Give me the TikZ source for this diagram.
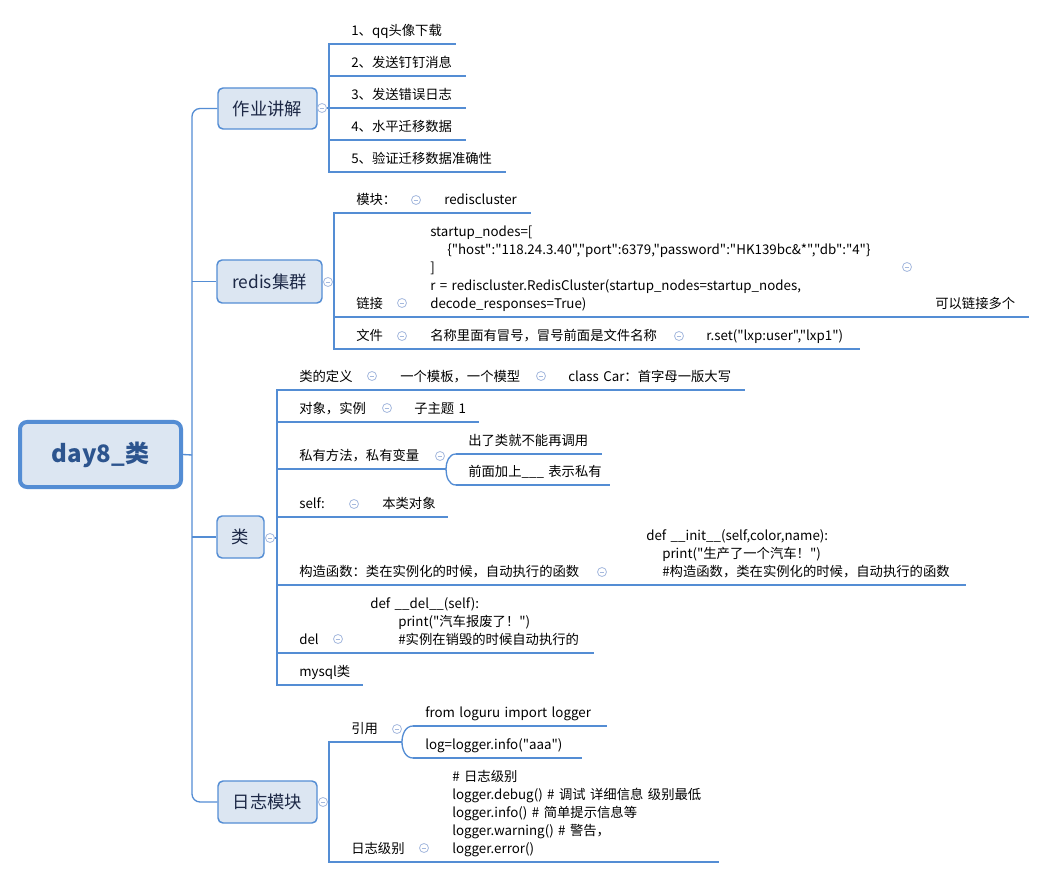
\documentclass[tikz,border=0pt]{standalone}
\usepackage{fontspec}
\setmainfont{Noto Sans CJK SC}[Ligatures=TeXOff]
\newdimen\px \px=0.75pt
\definecolor{lblue}{RGB}{84,141,212}
\definecolor{boxfill}{RGB}{220,230,242}
\definecolor{circc}{RGB}{165,185,222}
\definecolor{navy}{RGB}{28,40,70}
\definecolor{rootc}{RGB}{44,84,142}
\newcommand\lnx[2]{\hspace*{#1\px}\mbox{#2}}
\newcommand\mitem[5]{%
  \pgfmathsetmacro\mitemw{(#3-#2)*0.75}%
  \node[itm, text width=\mitemw pt] (#1) at (#2,#4) {#5};}
\tikzset{
  itm/.style={anchor=south west, inner xsep=0pt, inner ysep=2.2pt, align=left,
    font=\fontsize{10}{13.5}\selectfont, text=black, execute at end node=\strut},
  conn/.style={draw=lblue, line width=1pt},
  uline/.style={draw=lblue, line width=2.1pt},
  lvlone/.style={rectangle, rounded corners=5\px, draw=lblue, line width=1.1pt,
    fill=boxfill, text=navy, font=\fontsize{13}{15}\selectfont, inner sep=0pt},
  rootbox/.style={rectangle, rounded corners=7\px, draw=lblue, line width=3pt,
    fill=boxfill, text=rootc, font=\fontsize{18}{20}\selectfont\bfseries, inner sep=0pt},
  circ/.style={circle, draw=circc, line width=0.6pt, fill=white, minimum size=9\px,
    inner sep=0pt, path picture={\draw[circc, line width=0.6pt]
      ([xshift=-2.3\px]path picture bounding box.center) --
      ([xshift=2.3\px]path picture bounding box.center);}}
}
\begin{document}
\begin{tikzpicture}[x=0.75pt,y=-0.75pt]
\fill[white] (0,0) rectangle (1046,880);
\useasboundingbox (0,0) rectangle (1046,880);

% root and level-one boxes
\node[rootbox, minimum width=161\px, minimum height=65\px] (root) at (100.5,454.5) {day8\_类};
\node[lvlone, minimum width=99\px, minimum height=41\px] (b1) at (267.5,108.5) {作业讲解};
\node[lvlone, minimum width=105\px, minimum height=43\px] (b2) at (269.5,281.5) {redis集群};
\node[lvlone, minimum width=47\px, minimum height=42\px] (b3) at (240.5,537) {类};
\node[lvlone, minimum width=99\px, minimum height=42\px] (b4) at (267.5,802) {日志模块};

% 作业讲解
\mitem{a1}{339}{455}{44}{\lnx{12}{1、qq头像下载}}
\mitem{a2}{339}{465}{76}{\lnx{12}{2、发送钉钉消息}}
\mitem{a3}{339}{465}{108}{\lnx{12}{3、发送错误日志}}
\mitem{a4}{339}{465}{140}{\lnx{12}{4、水平迁移数据}}
\mitem{a5}{339}{505}{172}{\lnx{12}{5、验证迁移数据准确性}}

% redis集群
\mitem{r1}{344}{407}{213}{\lnx{12}{模块：}}
\mitem{r1a}{432}{530}{213}{\lnx{12}{rediscluster}}
\mitem{r2}{344}{394}{317}{\lnx{12}{链接}}
\mitem{r2a}{418}{899}{317}{\lnx{12}{startup\_nodes=[}\\\lnx{29}{\{"host":"118.24.3.40","port":6379,"password":"HK139bc\&*","db":"4"\}}\\\lnx{12}{]}\\\lnx{12}{r = rediscluster.RedisCluster(startup\_nodes=startup\_nodes,}\\\lnx{12}{decode\_responses=True)}}
\mitem{r2b}{924}{1028}{317}{\lnx{11}{可以链接多个}}
\mitem{r3}{344}{394}{349}{\lnx{12}{文件}}
\mitem{r3a}{418}{671}{349}{\lnx{12}{名称里面有冒号，冒号前面是文件名称}}
\mitem{r3b}{696}{859}{349}{\lnx{10}{r.set("lxp:user","lxp1")}}

% 类
\mitem{k1}{287}{363}{390}{\lnx{12}{类的定义}}
\mitem{k1a}{388}{533}{390}{\lnx{12}{一个模板，一个模型}}
\mitem{k1b}{558}{744}{390}{\lnx{10}{class Car：首字母一版大写}}
\mitem{k2}{287}{377}{422}{\lnx{12}{对象，实例}}
\mitem{k2a}{402}{478}{422}{\lnx{12}{子主题 1}}
\mitem{k3}{287}{432}{469}{\lnx{12}{私有方法，私有变量}}
\mitem{k3a}{456}{601}{454}{\lnx{12}{出了类就不能再调用}}
\mitem{k3b}{456}{609}{485}{\lnx{12}{前面加上\_\_\_ 表示私有}}
\mitem{k4}{287}{346}{517}{\lnx{12}{self:}}
\mitem{k4a}{370}{447}{517}{\lnx{12}{本类对象}}
\mitem{k5}{287}{593}{585}{\lnx{12}{构造函数：类在实例化的时候，自动执行的函数}}
\mitem{k5a}{618}{965}{585}{\lnx{28}{def \_\_init\_\_(self,color,name):}\\\lnx{44}{print("生产了一个汽车！")}\\\lnx{44}{\#构造函数，类在实例化的时候，自动执行的函数}}
\mitem{k6}{287}{329}{653}{\lnx{12}{del}}
\mitem{k6a}{354}{593}{653}{\lnx{16}{def \_\_del\_\_(self):}\\\lnx{44}{print("汽车报废了！")}\\\lnx{44}{\#实例在销毁的时候自动执行的}}
\mitem{k7}{287}{362}{685}{\lnx{12}{mysql类}}

% 日志模块
\mitem{l1}{339}{389}{742}{\lnx{12}{引用}}
\mitem{l1a}{413}{606}{726}{\lnx{12}{from loguru import logger}}
\mitem{l1b}{413}{581}{758}{\lnx{12}{log=logger.info("aaa")}}
\mitem{l2}{339}{416}{862}{\lnx{12}{日志级别}}
\mitem{l2a}{440}{718}{862}{\lnx{12}{\# 日志级别}\\\lnx{12}{logger.debug() \# 调试 详细信息 级别最低}\\\lnx{12}{logger.info() \# 简单提示信息等}\\\lnx{12}{logger.warning() \# 警告，}\\\lnx{12}{logger.error()}}

% coordinates
\coordinate (t) at (192,455);
\coordinate (v1) at (329,108);
\coordinate (v2) at (334,282);
\coordinate (v3) at (277,538);
\coordinate (v4) at (329,802);
\coordinate (j3) at (446,469);
\coordinate (j4) at (402,742);

% trunk
\draw[conn, rounded corners=8\px] (b1.west) -| (t) |- (b4.west);
\draw[conn] (root.east) -- (t);
\draw[conn] (t |- b2.west) -- (b2.west);
\draw[conn] (t |- b3.west) -- (b3.west);

% collapse circles of level one
\node[circ] (c1) at (322,108) {};
\node[circ] (c2) at (328,282) {};
\node[circ] (c3) at (270,538) {};
\node[circ] (c4) at (323,802) {};
\draw[conn] (c1.east) -- (v1);
\draw[conn] (c2.east) -- (v2);
\draw[conn] (c3.east) -- (v3);
\draw[conn] (c4.east) -- (v4);

% spines
\draw[conn] (a1.south west) -| (v1) |- (a5.south west);
\foreach \n in {a2,a3,a4} \draw[conn] (v1) |- (\n.south west);
\draw[conn] (r1.south west) -| (v2) |- (r3.south west);
\draw[conn] (v2) |- (r2.south west);
\draw[conn] (k1.south west) -| (v3) |- (k7.south west);
\foreach \n in {k2,k3,k4,k5,k6} \draw[conn] (v3) |- (\n.south west);
\draw[conn] (l1.south west) -| (v4) |- (l2.south west);

% sub connectors
\draw[conn] (r1.south east) -- (r1a.south west);
\draw[conn] (r2.south east) -- (r2a.south west);
\draw[conn] (r2a.south east) -- (r2b.south west);
\draw[conn] (r3.south east) -- (r3a.south west);
\draw[conn] (r3a.south east) -- (r3b.south west);
\draw[conn] (k1.south east) -- (k1a.south west);
\draw[conn] (k1a.south east) -- (k1b.south west);
\draw[conn] (k2.south east) -- (k2a.south west);
\draw[conn] (k3.south east) -- (j3);
\draw[conn] (k3a.south west) to[out=180,in=90] (j3) to[out=-90,in=180] (k3b.south west);
\draw[conn] (k4.south east) -- (k4a.south west);
\draw[conn] (k5.south east) -- (k5a.south west);
\draw[conn] (k6.south east) -- (k6a.south west);
\draw[conn] (l1.south east) -- (j4);
\draw[conn] (l1a.south west) to[out=180,in=90] (j4) to[out=-90,in=180] (l1b.south west);
\draw[conn] (l2.south east) -- (l2a.south west);

% underlines
\foreach \n in {a1,a2,a3,a4,a5,r1,r1a,r2,r2a,r2b,r3,r3a,r3b,k1,k1a,k1b,k2,k2a,k3,k3a,k3b,k4,k4a,k5,k5a,k6,k6a,k7,l1,l1a,l1b,l2,l2a}
  \draw[uline] (\n.south west) -- (\n.south east);

% collapse circles of sub-items
\node[circ] (cr1) at (416,200) {};
\node[circ] (cr2) at (402,303) {};
\node[circ] (cr2a) at (907,267) {};
\node[circ] (cr3) at (402,336) {};
\node[circ] (cr3a) at (679,336) {};
\node[circ] (ck1) at (372,376) {};
\node[circ] (ck1a) at (541,376) {};
\node[circ] (ck2) at (387,408) {};
\node[circ] (ck3) at (440,456) {};
\node[circ] (ck4) at (354,504) {};
\node[circ] (ck5) at (602,572) {};
\node[circ] (ck6) at (338,639) {};
\node[circ] (cl1) at (397,729) {};
\node[circ] (cl2) at (424,848) {};
\end{tikzpicture}
\end{document}
